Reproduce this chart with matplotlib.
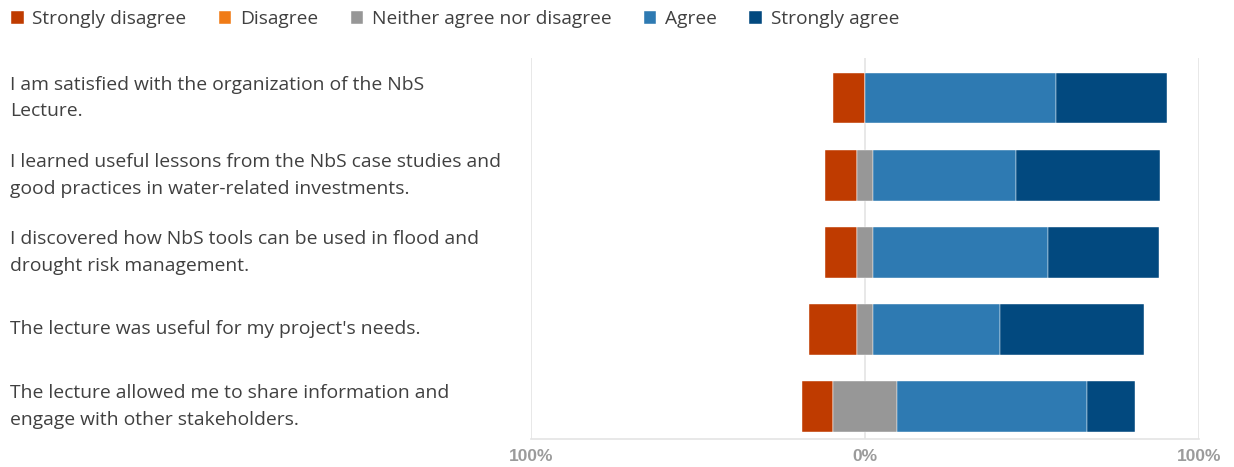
import numpy as np
import matplotlib.pyplot as plt
import matplotlib.transforms as mtransforms

# Antworten in Prozent je Aussage
fragen = [
    "I am satisfied with the organization of the NbS\nLecture.",
    "I learned useful lessons from the NbS case studies and\ngood practices in water-related investments.",
    "I discovered how NbS tools can be used in flood and\ndrought risk management.",
    "The lecture was useful for my project's needs.",
    "The lecture allowed me to share information and\nengage with other stakeholders.",
]
kategorien = ["Strongly disagree", "Disagree", "Neither agree nor disagree", "Agree", "Strongly agree"]
strongly_disagree = [9.5, 9.5, 9.5, 14.3, 9.5]
disagree = [0, 0, 0, 0, 0]
neutral = [0, 4.8, 4.8, 4.8, 19.0]
agree = [57.1, 42.9, 52.4, 38.1, 57.1]
strongly_agree = [33.3, 42.9, 33.3, 42.9, 14.3]

farben = ["#BF3B00", "#F07B16", "#979797", "#2E7AB2", "#02497F"]
tick_werte = [-100, 0, 100]
tick_labels = ["100%", "0%", "100%"]

plt.rcParams["font.family"] = ["Open Sans", "DejaVu Sans"]

fig = plt.figure(figsize=(12.34, 4.67), dpi=100)
ax = fig.add_axes([0.4303, 0.06, 0.5413, 0.816])

y = np.arange(len(fragen))
sd = np.array(strongly_disagree)
d = np.array(disagree)
n = np.array(neutral)
a = np.array(agree)
sa = np.array(strongly_agree)

# Neutrale Antworten werden um die Null herum aufgeteilt
links_start = -(n / 2 + d + sd)
hoehe = 0.66
segmente = [sd, d, n, a, sa]
start = links_start.copy()
for werte, farbe, name in zip(segmente, farben, kategorien):
    ax.barh(y, werte, left=start, height=hoehe, color=farbe, label=name,
            edgecolor="white", linewidth=0.3, zorder=2)
    start = start + werte

ax.set_xlim(-100, 100)
ax.set_ylim(4.42, -0.52)
ax.set_xticks(tick_werte)
ax.set_xticklabels(tick_labels, color="#9B9B9B", fontweight="bold",
                   fontsize=12.5, family=["Liberation Sans", "DejaVu Sans"])
ax.tick_params(axis="x", length=0, pad=7)
ax.set_yticks([])
for x in tick_werte:
    ax.axvline(x, color="#E4E4E4", linewidth=1.2, zorder=1)
for s in ["top", "left", "right"]:
    ax.spines[s].set_visible(False)
ax.spines["bottom"].set_color("#E4E4E4")
ax.spines["bottom"].set_linewidth(1.2)

# Fragen links als Text
trans = mtransforms.blended_transform_factory(fig.transFigure, ax.transData)
for yi, frage in zip(y, fragen):
    ax.text(10 / 1234, yi, frage, transform=trans, ha="left", va="center",
            fontsize=13.9, color="#404040", linespacing=1.62)

# Legende oben
handles, labels = ax.get_legend_handles_labels()
fig.legend(handles, labels, loc="upper left", bbox_to_anchor=(-0.005, 1.015), ncol=5,
           frameon=False, fontsize=13.8, labelcolor="#404040",
           handlelength=0.65, handleheight=0.65, handletextpad=0.45, columnspacing=1.7)

fig.savefig("out.png", dpi=100)
